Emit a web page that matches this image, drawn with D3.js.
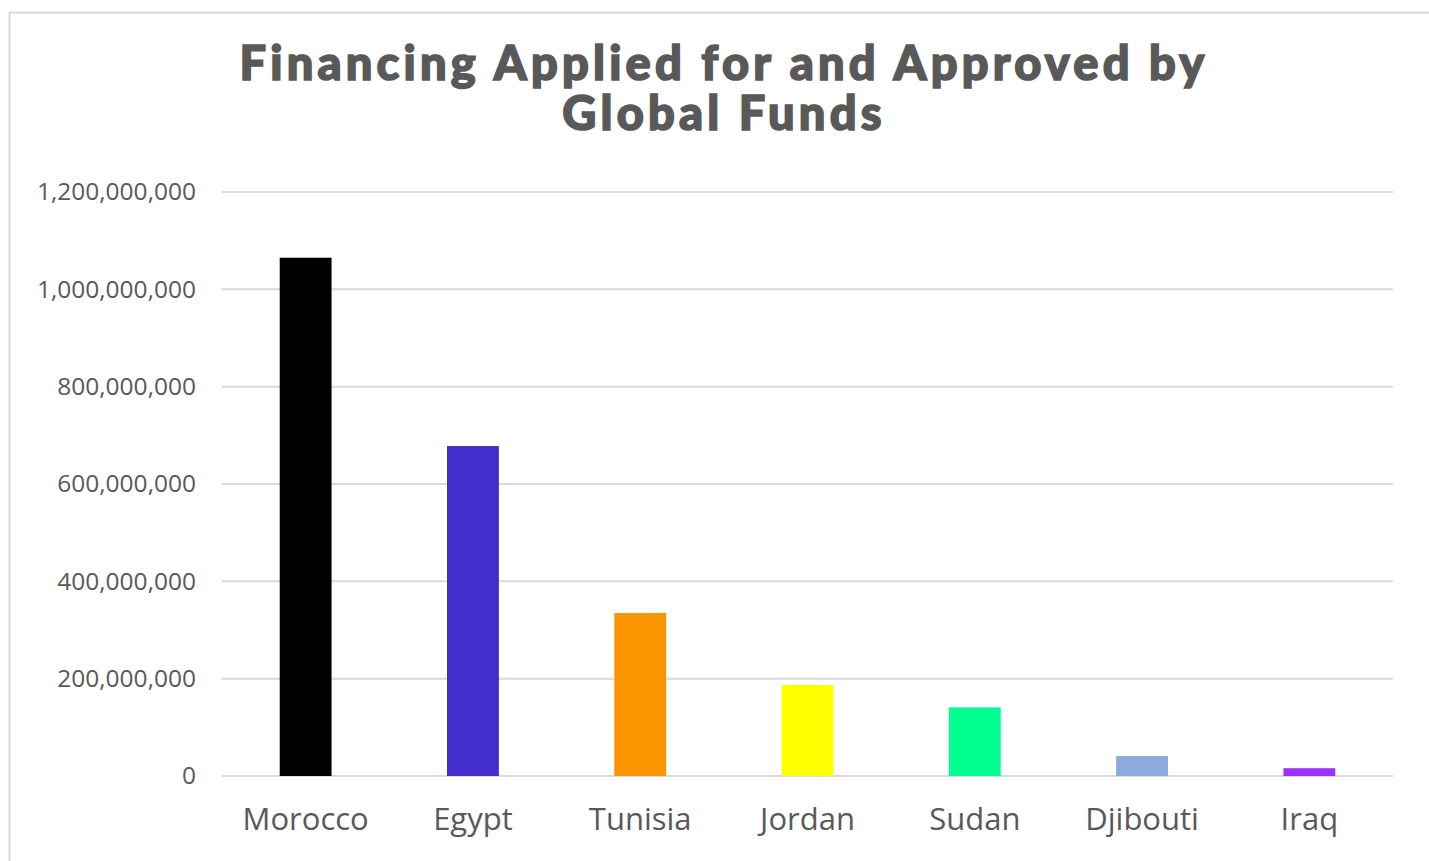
<!DOCTYPE html>
<html>
<head>
<meta charset="utf-8">
<script src="https://cdn.jsdelivr.net/npm/d3@7"></script>
<style>
  body { margin: 0; background: #fff; }
  svg { display: block; }
</style>
</head>
<body>
<div id="chart"></div>
<script>
// Chart data
const countries = ["Morocco", "Egypt", "Tunisia", "Jordan", "Sudan", "Djibouti", "Iraq"];
const amounts = [1065000000, 678000000, 335000000, 187000000, 141000000, 41000000, 16000000];
const barColors = ["#000000", "#432dcc", "#f99500", "#ffff00", "#00ff90", "#8eaadc", "#9b30ff"];
const yTicks = [0, 200000000, 400000000, 600000000, 800000000, 1000000000, 1200000000];
const titleLines = ["Financing Applied for and Approved by", "Global Funds"];

const W = 1429, H = 861;
const margin = { top: 192, right: 36, bottom: 85, left: 222 },
    width  = W - margin.left - margin.right,
    height = H - margin.top - margin.bottom;

const svg = d3.select("#chart")
    .append("svg")
    .attr("width", W)
    .attr("height", H);

// Outer frame (only left and top edges visible in the picture)
svg.append("rect")
    .attr("x", 9.5)
    .attr("y", 12.5)
    .attr("width", W + 20)
    .attr("height", H + 20)
    .attr("fill", "none")
    .attr("stroke", "#d9d9d9")
    .attr("stroke-width", 2);

// Title - heavy geometric look: bold Lato + same-colour stroke, spaced out
svg.append("text")
    .attr("x", 724)
    .attr("y", 80)
    .attr("text-anchor", "middle")
    .attr("fill", "#595959")
    .attr("stroke", "#595959")
    .attr("stroke-width", 1.6)
    .style("font-family", "Lato, 'DejaVu Sans', sans-serif")
    .style("font-weight", 900)
    .style("font-size", "47px")
    .style("letter-spacing", "4.2px")
    .selectAll("tspan")
    .data(titleLines)
    .enter()
    .append("tspan")
    .attr("x", 724)
    .attr("dy", (d, i) => i === 0 ? 0 : 50)
    .text(d => d);

const g = svg.append("g")
    .attr("transform", `translate(${margin.left}, ${margin.top})`);

// Scales
const x = d3.scaleBand()
    .domain(countries)
    .range([0, width])
    .paddingInner(0.69)
    .paddingOuter(0.345);

const y = d3.scaleLinear()
    .domain([0, 1200000000])
    .range([height, 0]);

// Gridlines
g.append("g")
    .selectAll("line")
    .data(yTicks)
    .enter()
    .append("line")
    .attr("x1", 0)
    .attr("x2", width)
    .attr("y1", d => y(d))
    .attr("y2", d => y(d))
    .attr("stroke", "#d9d9d9")
    .attr("stroke-width", 2);

// Y axis
const yAxis = g.append("g")
    .call(d3.axisLeft(y).tickValues(yTicks).tickSize(0).tickPadding(26).tickFormat(d3.format(",")));
yAxis.select(".domain").remove();
yAxis.selectAll("text")
    .attr("fill", "#595959")
    .style("font-family", "'Open Sans', 'Liberation Sans', sans-serif")
    .style("font-size", "24.5px");

// Bars
g.selectAll(".bar")
    .data(countries)
    .enter()
    .append("rect")
    .attr("class", "bar")
    .attr("x", d => x(d))
    .attr("width", x.bandwidth())
    .attr("y", (d, i) => y(amounts[i]))
    .attr("height", (d, i) => height - y(amounts[i]))
    .attr("fill", (d, i) => barColors[i]);

// X axis
const xAxis = g.append("g")
    .attr("transform", `translate(0, ${height})`)
    .call(d3.axisBottom(x).tickSize(0).tickPadding(32));
xAxis.select(".domain").remove();
xAxis.selectAll("text")
    .attr("fill", "#595959")
    .style("font-family", "'Open Sans', 'Liberation Sans', sans-serif")
    .style("font-size", "31px");
</script>
</body>
</html>
